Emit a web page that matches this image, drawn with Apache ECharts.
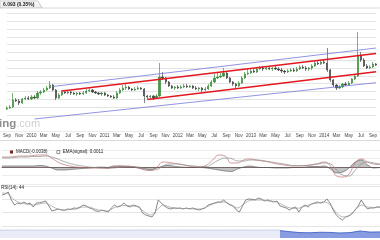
<!DOCTYPE html>
<html><head><meta charset="utf-8">
<script src="https://cdn.jsdelivr.net/npm/echarts@6/dist/echarts.min.js"></script>
<style>html,body{margin:0;padding:0;background:#fff}#c{width:380px;height:240px}</style>
</head><body><div id="c"></div>
<script>
// ---- tick labels (one per two months, Sep 2009 .. Sep 2014)
const tickLabels = ['Sep','Nov','2010','Mar','May','Jul','Sep','Nov','2011','Mar','May','Jul','Sep','Nov','2012','Mar','May','Jul','Sep','Nov','2013','Mar','May','Jul','Sep','Nov','2014','Mar','May','Jul','Sep'];
const titleText = '6.093 (0.35%)';
const macdLegend = 'MACD(-0.0038)';
const signalLegend = 'EMA(signal): 0.0011';
const rsiLabel = 'RSI(14): 44';

// ---- price, half-month candles [open, close, low, high]
const ohlc = [
[5.91,5.92,5.90,5.94],[5.92,5.93,5.91,5.95],[5.93,6.00,5.92,6.07],[6.00,5.99,5.98,6.02],[5.99,5.97,5.95,6.01],
[5.97,6.01,5.96,6.02],[6.01,6.02,6.00,6.04],[6.02,6.01,6.00,6.04],[6.01,6.03,6.00,6.05],[6.03,6.02,6.01,6.05],
[6.02,6.07,6.01,6.09],[6.07,6.08,6.05,6.10],[6.08,6.10,6.07,6.12],[6.10,6.12,6.09,6.14],[6.12,6.15,6.11,6.19],
[6.15,6.10,6.09,6.16],[6.10,6.02,6.00,6.11],[6.02,6.05,6.01,6.07],[6.05,6.08,6.04,6.10],[6.08,6.07,6.06,6.10],
[6.07,6.08,6.06,6.10],[6.08,6.07,6.05,6.09],[6.07,6.06,6.05,6.08],[6.06,6.07,6.04,6.08],[6.07,6.06,6.05,6.08],
[6.06,6.07,6.05,6.09],[6.07,6.09,6.06,6.11],[6.09,6.10,6.08,6.12],[6.10,6.08,6.07,6.11],[6.08,6.07,6.06,6.09],
[6.07,6.06,6.05,6.08],[6.06,6.07,6.04,6.08],[6.07,6.05,6.04,6.08],[6.05,6.04,6.03,6.06],[6.04,6.03,6.02,6.05],
[6.03,6.02,6.01,6.05],[6.02,6.07,6.01,6.09],[6.07,6.10,6.06,6.12],[6.10,6.12,6.09,6.15],[6.12,6.13,6.10,6.16],
[6.13,6.11,6.10,6.14],[6.11,6.10,6.09,6.12],[6.10,6.11,6.09,6.13],[6.11,6.12,6.10,6.14],[6.12,6.11,6.10,6.13],
[6.11,6.04,5.97,6.12],[6.04,6.03,6.01,6.05],[6.03,6.04,6.01,6.05],[6.04,6.02,6.00,6.05],[6.02,6.04,6.01,6.06],
[6.04,6.23,6.03,6.37],[6.23,6.22,6.20,6.28],[6.22,6.18,6.16,6.23],[6.18,6.14,6.13,6.19],[6.14,6.12,6.11,6.15],
[6.12,6.13,6.10,6.14],[6.13,6.12,6.11,6.15],[6.12,6.13,6.11,6.15],[6.13,6.14,6.12,6.16],[6.14,6.13,6.12,6.16],
[6.13,6.14,6.12,6.15],[6.14,6.12,6.11,6.15],[6.12,6.11,6.10,6.14],[6.11,6.12,6.09,6.13],[6.12,6.10,6.08,6.13],
[6.10,6.11,6.09,6.13],[6.11,6.14,6.10,6.16],[6.14,6.18,6.13,6.20],[6.18,6.22,6.17,6.26],[6.22,6.23,6.21,6.28],
[6.23,6.24,6.22,6.27],[6.24,6.27,6.23,6.32],[6.27,6.22,6.21,6.28],[6.22,6.18,6.17,6.23],[6.18,6.16,6.14,6.19],
[6.16,6.14,6.12,6.17],[6.14,6.17,6.13,6.19],[6.17,6.22,6.16,6.24],[6.22,6.26,6.21,6.28],[6.26,6.27,6.25,6.32],
[6.27,6.29,6.26,6.31],[6.29,6.28,6.27,6.31],[6.28,6.31,6.27,6.33],[6.31,6.32,6.30,6.34],[6.32,6.31,6.29,6.34],
[6.31,6.32,6.30,6.34],[6.32,6.31,6.30,6.34],[6.31,6.32,6.29,6.33],[6.32,6.31,6.30,6.34],[6.31,6.30,6.29,6.33],
[6.30,6.29,6.27,6.32],[6.29,6.28,6.26,6.30],[6.28,6.29,6.27,6.31],[6.29,6.30,6.28,6.32],[6.30,6.29,6.28,6.32],
[6.29,6.31,6.28,6.33],[6.31,6.33,6.30,6.35],[6.33,6.32,6.31,6.35],[6.32,6.31,6.29,6.34],[6.31,6.32,6.29,6.33],
[6.32,6.34,6.30,6.36],[6.34,6.37,6.33,6.39],[6.37,6.36,6.35,6.39],[6.36,6.38,6.35,6.40],[6.38,6.37,6.36,6.40],
[6.37,6.30,6.28,6.52],[6.30,6.20,6.18,6.31],[6.20,6.15,6.13,6.21],[6.15,6.12,6.10,6.16],[6.12,6.13,6.11,6.15],
[6.13,6.16,6.12,6.17],[6.16,6.15,6.14,6.18],[6.15,6.17,6.14,6.19],[6.17,6.21,6.16,6.22],[6.21,6.24,6.20,6.26],
[6.24,6.45,6.23,6.68],[6.45,6.40,6.38,6.48],[6.40,6.34,6.33,6.42],[6.34,6.32,6.31,6.36],[6.32,6.33,6.31,6.35],
[6.33,6.36,6.32,6.38],[6.36,6.35,6.34,6.37]
];

// ---- trend channels: [half-month index, price]
const redUpper  = [[18, 6.09],  [121, 6.465]];
const redLower  = [[46, 6.005], [121, 6.283]];
const blueUpper = [[15, 6.135], [121, 6.52]];
const blueLower = [[9, 5.81],   [121, 6.173]];

// ---- MACD (monthly)
const macdLine = [0.010,0.010,0.0105,0.011,0.011,0.0115,0.012,0.012,0.009,0.005,0.0025,0.001,0,-0.0005,-0.001,-0.001,-0.001,-0.0015,0,0.001,0.001,0.0005,-0.001,-0.003,-0.0035,0,0.005,0.0045,0.0035,0.0025,0.001,0.0005,0,0.002,0.007,0.012,0.011,0.004,0.004,0.007,0.008,0.007,0.006,0.005,0.0035,0.0025,0.0015,0.001,0.001,0.0015,0.0025,0.0035,0.005,0.001,-0.009,-0.010,-0.007,0.004,0.008,0.005,0.003,0.0025];
const signalLine = [0.009,0.009,0.0095,0.010,0.010,0.0105,0.0105,0.011,0.010,0.008,0.0055,0.0035,0.002,0.001,0,-0.0005,-0.001,-0.001,-0.001,0,0.0005,0.0005,0,-0.0015,-0.003,-0.0025,0.001,0.003,0.003,0.0025,0.0015,0.001,0.0005,0.0005,0.0035,0.007,0.009,0.0085,0.006,0.006,0.007,0.007,0.0065,0.0055,0.0045,0.0035,0.0025,0.0015,0.0015,0.0015,0.002,0.003,0.004,0.003,-0.003,-0.008,-0.009,-0.003,0.003,0.005,0.004,0.003];
const macdHist = [0.001,0.001,0.001,0.001,0.001,0.001,0.0015,0.001,-0.001,-0.003,-0.003,-0.0025,-0.002,-0.0015,-0.001,-0.0005,0,-0.0005,0.001,0.001,0.0005,0,-0.001,-0.002,-0.0025,-0.001,0.001,0.0015,0.0005,0,-0.0005,-0.0005,-0.0005,-0.001,-0.002,-0.003,-0.004,-0.0045,-0.002,0,0.001,0,-0.0005,-0.0005,-0.001,-0.001,-0.001,-0.0005,-0.0005,0,0.0005,0.0005,0.001,-0.002,-0.006,-0.005,-0.001,0.005,0.007,0.002,-0.001,-0.0005];

// ---- RSI (half-month) and its average (monthly)
const rsiLine = [66.5,68,71,59,51.5,54.5,53,56,53,54.5,48.5,54.5,55,56,57.5,50,42.5,44,45.5,44,43.5,45.5,45,47,46.5,48.5,51.5,50,47,45.5,42.5,42,44,42.5,41,47,51.5,48.5,50,54.5,50,48.5,51.5,50,48.5,39.5,36.5,35,33.5,39.5,59,54.5,50,47,45.5,47,46.5,47,45.5,47,45.5,47,45.5,44,45.5,47,51.5,53,54.5,56,56,59,54.5,51.5,50,44,41,50,59,60.5,60,59,62,60.5,57.5,59,57.5,56,57.5,50,48.5,47,44,47,48.5,41,48.5,51.5,48.5,53,54.5,56,54.5,56,60.5,54.5,44,36.5,32,29,33.5,35,38,44,50,59,51.5,45.5,47,47,48.5,48.5];
const rsiAvg = [69.5,68,59,54.5,53,51.5,53,54.5,50,45.5,44,44.8,45.5,48.5,48.5,45.5,43.3,42.5,47,50,50.8,50,48.5,41,36.5,44,51.5,48.5,47,46.3,46.3,45.5,45.5,48.5,53,55.3,56,51.5,47,53,58.3,59,59,57.5,56.8,53,48.5,46.3,47,50,53,54.5,56,51.5,39.5,33.5,35.8,44,51.5,48.5,47.8,47.8];

// ---- navigator strip
const navLeft  = [8.8,8.8,8.9,8.9,8.8,8.9,8.9,8.8,8.8,8.9,8.9,8.9,8.8,8.8,8.9,8.9,8.8,8.8,8.9,8.9,8.9,8.8,8.8,8.9,8.9,8.8,8.8,8.9,8.9];
const navRight = [8.2,7.0,6.0,5.8,6.4,6.2,5.6,6.0,7.8,6.6,6.8];

// ---- category axes
const halfMonths = [], months = [];
for (let k = 0; k < ohlc.length; k++) {
  const m = 8 + Math.floor(k / 2);
  halfMonths.push((2009 + Math.floor(m / 12)) + '-' + String(m % 12 + 1).padStart(2, '0') + (k % 2 ? '-16' : '-01'));
}
for (let k = 0; k < macdLine.length; k++) {
  const m = 8 + k;
  months.push((2009 + Math.floor(m / 12)) + '-' + String(m % 12 + 1).padStart(2, '0'));
}
const navCount = navLeft.length + navRight.length - 1;
const navIdx = Array.from({length: navCount}, (_, i) => 'n' + i);
const navLeftData = navLeft.concat(Array(navCount - navLeft.length).fill(null));
const navRightData = Array(navCount - navRight.length).fill(null).concat(navRight);

const FONT = 'Liberation Sans, Arial, sans-serif';
const hiddenX = (gi, data) => ({type:'category', gridIndex:gi, data, boundaryGap:false, show:false});

const chart = echarts.init(document.getElementById('c'), null, {renderer:'canvas'});
chart.setOption({
  animation:false,
  backgroundColor:'#fff',
  textStyle:{fontFamily:FONT},
  grid:[
    {left:2, top:13.3, width:378.125, height:101.7},
    {left:2, top:150, width:381.25, height:34},
    {left:2, top:186, width:378.125, height:40},
    {left:2, top:186, width:381.25, height:40},
    {left:0, top:229, width:380, height:9}
  ],
  xAxis:[
    {type:'category', gridIndex:0, data:halfMonths, boundaryGap:false,
     axisLine:{show:false}, axisTick:{show:false}, splitLine:{show:false},
     axisLabel:{interval:3, margin:18, fontSize:4.5, color:'#444', fontFamily:FONT,
       formatter:(v, i) => tickLabels[Math.round(i / 4)] || ''}},
    {type:'category', gridIndex:1, data:months, boundaryGap:false,
     axisLine:{show:true, onZero:true, lineStyle:{color:'#7d6a6a', width:1}},
     axisTick:{show:false}, axisLabel:{show:false}},
    hiddenX(2, halfMonths),
    hiddenX(3, months),
    hiddenX(4, navIdx)
  ],
  yAxis:[
    {type:'value', gridIndex:0, min:5.85, max:6.867, show:false, splitLine:{show:false}},
    {type:'value', gridIndex:0, min:0, max:13, interval:1, axisLine:{show:false}, axisTick:{show:false},
     axisLabel:{show:false}, splitLine:{show:true, lineStyle:{color:'#e4e4e4', width:1}}},
    {type:'value', gridIndex:1, min:-0.017, max:0.017, interval:0.0085, axisLine:{show:false}, axisTick:{show:false},
     axisLabel:{show:false}, splitLine:{show:true, lineStyle:{color:'#ececec', width:1}}},
    {type:'value', gridIndex:2, min:20, max:80, interval:20, axisLine:{show:false}, axisTick:{show:false},
     axisLabel:{show:false}, splitLine:{show:true, lineStyle:{color:'#e6e6e6', width:1}}},
    {type:'value', gridIndex:3, min:20, max:80, show:false, splitLine:{show:false}},
    {type:'value', gridIndex:4, min:0, max:10, show:false, splitLine:{show:false}}
  ],
  legend:{
    top:144.5, left:5, itemWidth:3, itemHeight:3, itemGap:9, selectedMode:false,
    textStyle:{fontSize:4.5, color:'#222', fontFamily:FONT, padding:[0,0,0,-2]},
    data:[
      {name:macdLegend, icon:'rect', itemStyle:{color:'#7a1f1f'}},
      {name:signalLegend, icon:'rect', itemStyle:{color:'#ffffff', borderColor:'#666', borderWidth:0.7}}
    ]
  },
  graphic:[
    {type:'polygon', shape:{points:[[0,8],[0,1],[38,1],[42,8]]}, z:10,
     style:{fill:new echarts.graphic.LinearGradient(0,0,0,1,[{offset:0,color:'#ffffff'},{offset:1,color:'#e9e9e9'}]), stroke:'#b9b9b9', lineWidth:0.7}},
    {type:'text', x:3, y:4.6, z:11, style:{text:titleText, fontSize:5, fontWeight:'bold', fill:'#222', verticalAlign:'middle', fontFamily:FONT}},
    {type:'line', shape:{x1:42, y1:8, x2:380, y2:8}, style:{stroke:'#cfcfcf', lineWidth:0.8}},
    {type:'line', shape:{x1:0, y1:131.5, x2:380, y2:131.5}, style:{stroke:'#ececec', lineWidth:1}},
    {type:'line', shape:{x1:0, y1:140.5, x2:380, y2:140.5}, style:{stroke:'#dadada', lineWidth:1}},
    {type:'text', x:-1, y:117.5, z:0, style:{
      text:'{a|ing}{b|.com}', fontFamily:'DejaVu Sans, sans-serif',
      rich:{a:{fontSize:11.5, fontWeight:'bold', fill:'#8f8f8f'}, b:{fontSize:11, fill:'#cfcfcf'}}}},
    {type:'text', x:1, y:185.2, z:11, style:{text:rsiLabel, fontSize:4.5, fill:'#222', fontFamily:FONT}}
  ],
  series:[
    {type:'candlestick', xAxisIndex:0, yAxisIndex:0, data:ohlc, barWidth:1.7, clip:false,
     itemStyle:{color:'#3c9e3c', color0:'#4d4d4d', borderColor:'#2f7f2f', borderColor0:'#333333', borderWidth:0.6}},
    {type:'line', xAxisIndex:0, yAxisIndex:0, data:blueUpper, symbol:'none', clip:false, silent:true,
     lineStyle:{color:'#7777dd', width:0.8}},
    {type:'line', xAxisIndex:0, yAxisIndex:0, data:blueLower, symbol:'none', clip:false, silent:true,
     lineStyle:{color:'#7777dd', width:0.8}},
    {type:'line', xAxisIndex:0, yAxisIndex:0, data:redUpper, symbol:'none', clip:false, silent:true,
     lineStyle:{color:'#e3171f', width:1.5}},
    {type:'line', xAxisIndex:0, yAxisIndex:0, data:redLower, symbol:'none', clip:false, silent:true,
     lineStyle:{color:'#e3171f', width:1.5}},
    {type:'line', xAxisIndex:1, yAxisIndex:2, data:macdHist, smooth:0.4, symbol:'none', silent:true,
     lineStyle:{color:'#555555', width:0.6}, areaStyle:{color:'rgba(95,95,95,0.55)', origin:0}},
    {type:'line', name:macdLegend, xAxisIndex:1, yAxisIndex:2, data:macdLine, smooth:true, symbol:'none', clip:false,
     itemStyle:{color:'#7a1f1f'}, lineStyle:{color:'#c07070', width:0.7}},
    {type:'line', name:signalLegend, xAxisIndex:1, yAxisIndex:2, data:signalLine, smooth:true, symbol:'none', clip:false,
     itemStyle:{color:'#666'}, lineStyle:{color:'#8a8a8a', width:0.7}},
    {type:'line', xAxisIndex:2, yAxisIndex:3, data:rsiLine, symbol:'none', clip:false,
     lineStyle:{color:'#555555', width:0.7}},
    {type:'line', xAxisIndex:3, yAxisIndex:4, data:rsiAvg, symbol:'none', smooth:0.3, clip:false,
     lineStyle:{color:'#9a9a9a', width:0.7}},
    {type:'line', xAxisIndex:4, yAxisIndex:5, data:navLeftData, symbol:'none', connectNulls:false,
     lineStyle:{color:'#c3c9e8', width:0.8}, areaStyle:{color:'#dfe3f4'}},
    {type:'line', xAxisIndex:4, yAxisIndex:5, data:navRightData, symbol:'none', connectNulls:false,
     lineStyle:{color:'#3555c0', width:0.8}, areaStyle:{color:'#5673d4'}}
  ]
});
</script></body></html>
